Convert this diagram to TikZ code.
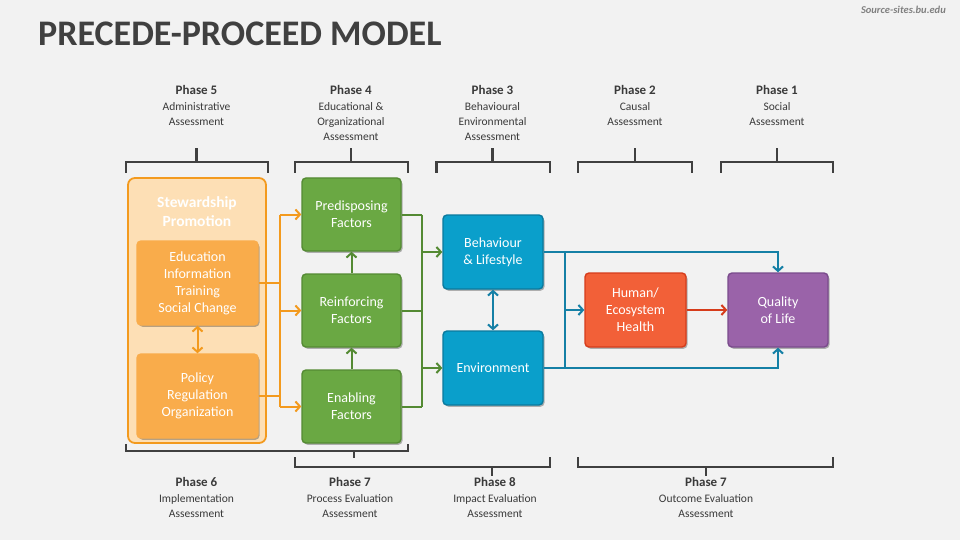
\documentclass[tikz,border=0pt]{standalone}
\usepackage{fontspec}
\setmainfont{Carlito}
\usetikzlibrary{arrows.meta,shadows}
\definecolor{bg}{HTML}{F2F2F2}
\definecolor{titlec}{HTML}{404040}
\definecolor{txtc}{HTML}{3A3A3A}
\definecolor{orline}{HTML}{F39A1E}
\definecolor{peach}{HTML}{FDDFB5}
\definecolor{orbox}{HTML}{F9AC4B}
\definecolor{grfill}{HTML}{6AA843}
\definecolor{grline}{HTML}{548A33}
\definecolor{blfill}{HTML}{0A9FCB}
\definecolor{blline}{HTML}{0A7A9E}
\definecolor{blarrow}{HTML}{1580A6}
\definecolor{rdfill}{HTML}{F26038}
\definecolor{rdline}{HTML}{D63C1B}
\definecolor{pufill}{HTML}{9A63A9}
\definecolor{puline}{HTML}{7A4B8C}
\tikzset{
  shad/.style={drop shadow={shadow xshift=1.5pt,shadow yshift=-1.8pt,opacity=0.28,fill=black}},
  box/.style={rounded corners=4pt,line width=1.4pt,align=center,text=white,
     font=\fontsize{14}{17}\selectfont,inner sep=0pt,shad},
  grbox/.style={box,fill=grfill,draw=grline,minimum width=99pt,minimum height=73pt},
  blbox/.style={box,fill=blfill,draw=blline,minimum width=100pt,minimum height=74pt},
  orsub/.style={box,fill=orbox,draw=orbox,minimum width=121pt,minimum height=84pt},
  tip/.style={-{Straight Barb[length=4.5pt,width=10pt,line width=2pt]}},
  dtip/.style={{Straight Barb[length=4.5pt,width=10pt,line width=2pt]}-{Straight Barb[length=4.5pt,width=10pt,line width=2pt]}},
  orc/.style={draw=orline,line width=2pt},
  grc/.style={draw=grline,line width=2pt},
  blc/.style={draw=blarrow,line width=2pt},
  brk/.style={draw=titlec,line width=2.2pt},
  phase/.style={font=\bfseries\fontsize{13}{15}\selectfont,text=txtc,inner sep=0pt},
  sub/.style={font=\fontsize{11.5}{15}\selectfont,text=txtc,align=center,inner sep=0pt,anchor=north}
}
\begin{document}
\begin{tikzpicture}[x=1pt,y=-1pt]
\fill[bg] (0,0) rectangle (960,540);
\useasboundingbox (0,0) rectangle (960,540);
% title
\node[anchor=west,inner sep=0pt,text=titlec,font=\bfseries\fontsize{36}{40}\selectfont] (title) at (38,34) {PRECEDE-PROCEED MODEL};
\node[anchor=east,inner sep=0pt,text=gray,font=\bfseries\itshape\fontsize{10.5}{12}\selectfont] (src) at (946,10) {Source-sites.bu.edu};
% top labels
\node[phase] (p5) at (196.5,90) {Phase 5};
\node[sub] (p5s) at (196.5,102.5) {Administrative\\Assessment};
\node[phase] (p4) at (351,90) {Phase 4};
\node[sub] (p4s) at (351,102.5) {Educational \&\\Organizational\\Assessment};
\node[phase] (p3) at (492.5,90) {Phase 3};
\node[sub] (p3s) at (492.5,102.5) {Behavioural\\Environmental\\Assessment};
\node[phase] (p2) at (635,90) {Phase 2};
\node[sub] (p2s) at (635,102.5) {Causal\\Assessment};
\node[phase] (p1) at (777,90) {Phase 1};
\node[sub] (p1s) at (777,102.5) {Social\\Assessment};
% top brackets
\draw[brk] (126,173) -- (126,162) -- (268,162) -- (268,173);
\draw[brk] (196.5,162) -- (196.5,148);
\draw[brk] (295,173) -- (295,162) -- (408,162) -- (408,173);
\draw[brk] (351,162) -- (351,148);
\draw[brk] (436.5,173) -- (436.5,162) -- (550,162) -- (550,173);
\draw[brk] (492.5,162) -- (492.5,148);
\draw[brk] (578,173) -- (578,162) -- (692,162) -- (692,173);
\draw[brk] (635,162) -- (635,148);
\draw[brk] (721,173) -- (721,162) -- (833,162) -- (833,173);
\draw[brk] (777,162) -- (777,148);
% bottom brackets
\draw[brk] (126,444) -- (126,451) -- (408,451) -- (408,444);
\draw[brk] (354,451) -- (354,458);
\draw[brk] (295,457) -- (295,467) -- (550,467) -- (550,457);
\draw[brk] (492,467) -- (492,476);
\draw[brk] (578,457) -- (578,467) -- (833,467) -- (833,457);
\draw[brk] (706,467) -- (706,476);
% bottom labels
\node[phase] (p6) at (196.5,482) {Phase 6};
\node[sub] (p6s) at (196.5,494.5) {Implementation\\Assessment};
\node[phase] (p7) at (350,482) {Phase 7};
\node[sub] (p7s) at (350,494.5) {Process Evaluation\\Assessment};
\node[phase] (p8) at (495,482) {Phase 8};
\node[sub] (p8s) at (495,494.5) {Impact Evaluation\\Assessment};
\node[phase] (p7b) at (706,482) {Phase 7};
\node[sub] (p7bs) at (706,494.5) {Outcome Evaluation\\Assessment};
% stewardship
\node[rounded corners=7pt,fill=peach,draw=orline,line width=1.8pt,minimum width=138pt,minimum height=265pt,inner sep=0pt] (stew) at (197,310.5) {};
\node[text=white,align=center,inner sep=0pt,font=\bfseries\fontsize{15.5}{19}\selectfont] (stewt) at (197,212) {Stewardship\\Promotion};
\node[orsub] (edu) at (197.5,283) {Education\\Information\\Training\\Social Change};
\node[orsub] (pol) at (197.5,396) {Policy\\Regulation\\Organization};
% green
\node[grbox] (pre) at (351.5,214.5) {Predisposing\\Factors};
\node[grbox] (rei) at (351.5,310.5) {Reinforcing\\Factors};
\node[grbox] (ena) at (351.5,406.5) {Enabling\\Factors};
% blue
\node[blbox] (beh) at (493,252) {Behaviour\\\& Lifestyle};
\node[blbox] (env) at (493,368) {Environment};
\node[box,fill=rdfill,draw=rdline,minimum width=101pt,minimum height=74pt] (hum) at (635.5,310) {Human/\\Ecosystem\\Health};
\node[box,fill=pufill,draw=puline,minimum width=100pt,minimum height=74pt] (qol) at (778,310) {Quality\\of Life};
% junction coordinates
\coordinate (jo) at (280,310);
\coordinate (jg) at (422,310);
\coordinate (jb) at (565,310);
% orange connectors
\draw[orc,dtip] (edu.south) -- (pol.north);
\draw[orc] (edu.east) -- (edu.east -| jo);
\draw[orc] (pol.east) -- (pol.east -| jo);
\draw[orc] (jo |- pre.west) -- (jo |- ena.west);
\draw[orc,tip] (jo |- pre.west) -- (pre.west);
\draw[orc,tip] (jo |- rei.west) -- (rei.west);
\draw[orc,tip] (jo |- ena.west) -- (ena.west);
% green connectors
\draw[grc,tip] (ena.north) -- (rei.south);
\draw[grc,tip] (rei.north) -- (pre.south);
\draw[grc] (pre.east) -- (pre.east -| jg);
\draw[grc] (rei.east) -- (rei.east -| jg);
\draw[grc] (ena.east) -- (ena.east -| jg);
\draw[grc] (jg |- pre.east) -- (jg |- ena.east);
\draw[grc,tip] (jg |- beh.west) -- (beh.west);
\draw[grc,tip] (jg |- env.west) -- (env.west);
% blue connectors
\draw[blc,dtip] (beh.south) -- (env.north);
\draw[blc,tip] (beh.east) -| (qol.north);
\draw[blc,tip] (env.east) -| (qol.south);
\draw[blc] (jb |- beh.east) -- (jb |- env.east);
\draw[blc,tip] (jb) -- (hum.west);
% red
\draw[draw=rdline,line width=2pt,tip] (hum.east) -- (qol.west);
\end{tikzpicture}
\end{document}
